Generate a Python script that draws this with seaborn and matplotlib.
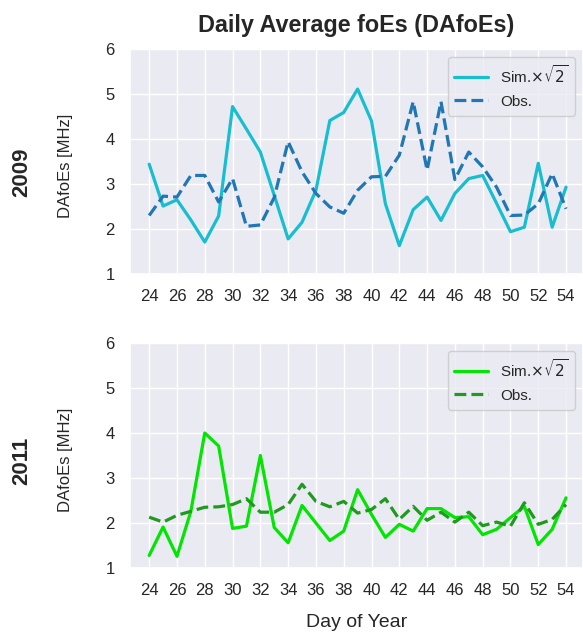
import numpy as np
import pandas as pd
import matplotlib
matplotlib.use("Agg")
import matplotlib.pyplot as plt
import seaborn as sns

# Day of year (Jan 24 - Feb 23)
days = list(range(24, 55))

# 2009: simulated (scaled by sqrt 2) and observed daily-average foEs [MHz]
sim_2009 = [3.44, 2.51, 2.65, 2.20, 1.71, 2.29, 4.72, 4.22, 3.71, 2.75, 1.78,
            2.15, 2.86, 4.41, 4.59, 5.11, 4.40, 2.56, 1.63, 2.43, 2.71, 2.19,
            2.79, 3.12, 3.19, 2.57, 1.94, 2.04, 3.46, 2.04, 2.93]
obs_2009 = [2.30, 2.73, 2.71, 3.19, 3.19, 2.60, 3.12, 2.06, 2.09, 2.70, 3.94,
            3.27, 2.79, 2.49, 2.35, 2.86, 3.16, 3.17, 3.64, 4.83, 3.31, 4.83,
            3.10, 3.71, 3.38, 2.93, 2.30, 2.31, 2.56, 3.23, 2.45]

# 2011
sim_2011 = [1.28, 1.91, 1.26, 2.26, 4.00, 3.71, 1.88, 1.93, 3.50, 1.90, 1.56,
            2.39, 2.00, 1.61, 1.82, 2.74, 2.19, 1.68, 1.97, 1.82, 2.32, 2.32,
            2.12, 2.14, 1.74, 1.86, 2.12, 2.37, 1.52, 1.86, 2.56]
obs_2011 = [2.13, 2.02, 2.17, 2.26, 2.35, 2.36, 2.41, 2.54, 2.24, 2.24, 2.41,
            2.86, 2.48, 2.36, 2.48, 2.22, 2.30, 2.54, 2.08, 2.37, 2.06, 2.24,
            2.02, 2.24, 1.94, 2.02, 1.93, 2.45, 1.97, 2.08, 2.41]

years = ["2009", "2011"]
xticks = list(range(24, 55, 2))
yticks = [1, 2, 3, 4, 5, 6]

sns.set_theme(style="darkgrid")
plt.rcParams["font.family"] = ["Liberation Sans", "DejaVu Sans"]
plt.rcParams["mathtext.fontset"] = "dejavusans"

fig = plt.figure(figsize=(5.83, 6.32), dpi=100)
ax_top = fig.add_axes([130 / 583, 1 - 274 / 632, 1 - 130 / 583, 225 / 632])
ax_bot = fig.add_axes([130 / 583, 1 - 568 / 632, 1 - 130 / 583, 225 / 632])

panels = [
    (ax_top, sim_2009, obs_2009, "#17becf", "#1f77b4", 172 / 632),
    (ax_bot, sim_2011, obs_2011, "#00e600", "#1f9a1f", 461 / 632),
]

for (ax, sim, obs, c_sim, c_obs, y_row), year in zip(panels, years):
    df = pd.DataFrame({"day": days, "sim": sim, "obs": obs})
    sns.lineplot(data=df, x="day", y="sim", ax=ax, color=c_sim, lw=2.3,
                 label=r"Sim.$\times\sqrt{2}$")
    sns.lineplot(data=df, x="day", y="obs", ax=ax, color=c_obs, lw=2.3,
                 linestyle="--", label="Obs.")
    ax.set_xlim(22.62, 55.22)
    ax.set_ylim(1, 6)
    ax.set_xticks(xticks)
    ax.set_yticks(yticks)
    ax.tick_params(axis="both", labelsize=12, length=0, pad=11,
                   labelcolor="#262626")
    ax.set_ylabel("DAfoEs [MHz]", fontsize=12)
    ax.set_xlabel("")
    leg = ax.legend(loc="upper right", fontsize=11, frameon=True,
                    borderaxespad=0.5, handlelength=2.2, labelspacing=0.6,
                    borderpad=0.45)
    leg.get_frame().set_edgecolor("#c8c8c8")
    ax.yaxis.set_label_coords(-0.125, 0.48)
    fig.text(22 / 583, 1 - y_row, year, rotation=90, fontsize=16,
             fontweight="bold", ha="center", va="center")

ax_top.set_title("Daily Average foEs (DAfoEs)", fontsize=16.8,
                 fontweight="bold", pad=12)
ax_bot.set_xlabel("Day of Year", fontsize=14, labelpad=11)

fig.savefig("out.png", dpi=100)
